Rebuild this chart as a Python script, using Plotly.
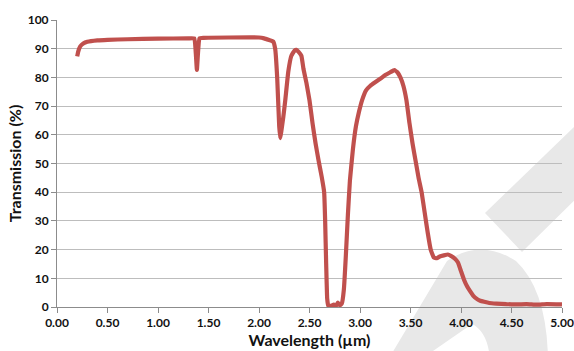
import plotly.graph_objects as go

# Transmission spectrum (wavelength in µm, transmission in %)
wavelength = [
    0.20, 0.21, 0.23, 0.26, 0.30, 0.40, 0.50, 0.70, 1.00, 1.30, 1.36,
    1.375, 1.385, 1.395, 1.41, 1.45, 1.70, 2.00, 2.05, 2.10, 2.14, 2.16,
    2.18, 2.20, 2.21, 2.22, 2.24, 2.26, 2.29, 2.32, 2.35, 2.37, 2.39,
    2.42, 2.44, 2.47, 2.50, 2.53, 2.56, 2.59, 2.62, 2.645, 2.655, 2.665,
    2.675, 2.685, 2.71, 2.74, 2.76, 2.78, 2.80, 2.82, 2.84, 2.86, 2.88,
    2.90, 2.93, 2.96, 2.99, 3.02, 3.06, 3.10, 3.15, 3.20, 3.25, 3.30,
    3.34, 3.37, 3.40, 3.43, 3.46, 3.49, 3.52, 3.55, 3.58, 3.61, 3.64,
    3.67, 3.70, 3.73, 3.76, 3.79, 3.83, 3.87, 3.90, 3.94, 3.97, 4.00,
    4.03, 4.06, 4.09, 4.12, 4.15, 4.19, 4.23, 4.28, 4.35, 4.45, 4.55,
    4.65, 4.75, 4.85, 5.00,
]
transmission = [
    87.3, 89.0, 90.8, 91.8, 92.4, 92.9, 93.1, 93.3, 93.5, 93.6, 93.6,
    88.0, 82.6, 88.0, 93.6, 93.8, 93.9, 93.9, 93.6, 93.0, 92.5, 90.0,
    80.0, 63.0, 58.8, 61.0, 66.0, 72.0, 82.0, 87.5, 89.3, 89.6, 89.0,
    87.5, 83.0, 78.0, 72.0, 64.0, 57.0, 51.0, 45.5, 40.0, 30.0, 15.0,
    3.0, 0.5, 0.4, 0.8, 0.3, 1.5, 0.6, 1.2, 6.0, 18.0, 32.0,
    44.0, 55.0, 63.0, 68.0, 72.0, 75.5, 77.0, 78.3, 79.5, 80.8, 81.8,
    82.5, 81.8, 80.0, 77.0, 72.0, 64.0, 57.0, 51.0, 45.0, 40.0, 33.0,
    26.0, 20.0, 17.3, 17.0, 17.6, 18.0, 18.3, 17.8, 16.8, 15.5, 12.5,
    9.5, 7.2, 5.5, 4.0, 3.0, 2.2, 1.8, 1.4, 1.2, 1.0, 0.9,
    1.0, 0.8, 1.0, 0.9,
]

x_ticks = [0.0, 0.5, 1.0, 1.5, 2.0, 2.5, 3.0, 3.5, 4.0, 4.5, 5.0]
y_ticks = list(range(0, 101, 10))

W, H = 574, 351
M_L, M_R, M_T, M_B = 57, 12, 20, 44
PW, PH = W - M_L - M_R, H - M_T - M_B


def to_paper(px, py):
    """Page pixel position -> paper coordinates of the plot area."""
    return (px - M_L) / PW, (H - M_B - py) / PH


def path(points_cmds):
    out = []
    for cmd, pts in points_cmds:
        coords = " ".join("%.4f,%.4f" % to_paper(px, py) for px, py in pts)
        out.append(cmd + " " + coords if coords else cmd)
    return " ".join(out)


# Light grey logo mark in the background
band = path([("M", [(600, 102)]), ("L", [(485, 213)]), ("L", [(522, 252)]),
             ("L", [(600, 175)]), ("Z", [])])
ring = path([("M", [(388, 360)]), ("L", [(447, 261)]),
             ("Q", [(480, 238), (516, 261)]), ("Q", [(547, 290), (548, 360)]),
             ("Z", []),
             ("M", [(420, 360)]), ("L", [(472, 324)]),
             ("Q", [(488, 332), (490, 360)]), ("Z", [])])

RED = "#C0504D"
FONT = "Lato"

fig = go.Figure()
fig.add_trace(go.Scatter(
    x=wavelength, y=transmission, mode="lines",
    line=dict(color=RED, width=4.2, shape="spline", smoothing=0.3),
    showlegend=False, hoverinfo="x+y",
))

fig.update_layout(
    width=W, height=H,
    margin=dict(l=M_L, r=M_R, t=M_T, b=M_B, autoexpand=False),
    paper_bgcolor="white", plot_bgcolor="rgba(0,0,0,0)",
    font=dict(family=FONT, size=12, color="#111111", weight="bold"),
    shapes=[
        dict(type="path", xref="paper", yref="paper", path=band,
             fillcolor="#e8e8e8", line=dict(width=0), layer="below"),
        dict(type="path", xref="paper", yref="paper", path=ring,
             fillcolor="#e8e8e8", line=dict(width=0), layer="below",
             fillrule="evenodd"),
    ],
    xaxis=dict(
        range=[0, 5], tickvals=x_ticks,
        ticktext=["%.2f" % v for v in x_ticks],
        ticks="outside", ticklen=5, tickcolor="#8c8c8c",
        showline=True, linecolor="#8c8c8c", linewidth=1,
        showgrid=False, zeroline=False,
        tickfont=dict(family=FONT, size=12, weight="bold", color="#111111"),
        title=dict(text="Wavelength (µm)", standoff=5,
                   font=dict(family=FONT, size=16, weight="bold", color="#111111")),
        automargin=False,
    ),
    yaxis=dict(
        range=[0, 100], tickvals=y_ticks,
        ticks="outside", ticklen=5, tickcolor="#8c8c8c",
        showline=True, linecolor="#8c8c8c", linewidth=1,
        showgrid=True, gridcolor="#bdbdbd", gridwidth=1, zeroline=False,
        tickfont=dict(family=FONT, size=12, weight="bold", color="#111111"),
        title=dict(text="Transmission (%)", standoff=2,
                   font=dict(family=FONT, size=16, weight="bold", color="#111111")),
        automargin=False,
    ),
)

fig.write_html("out.html")
